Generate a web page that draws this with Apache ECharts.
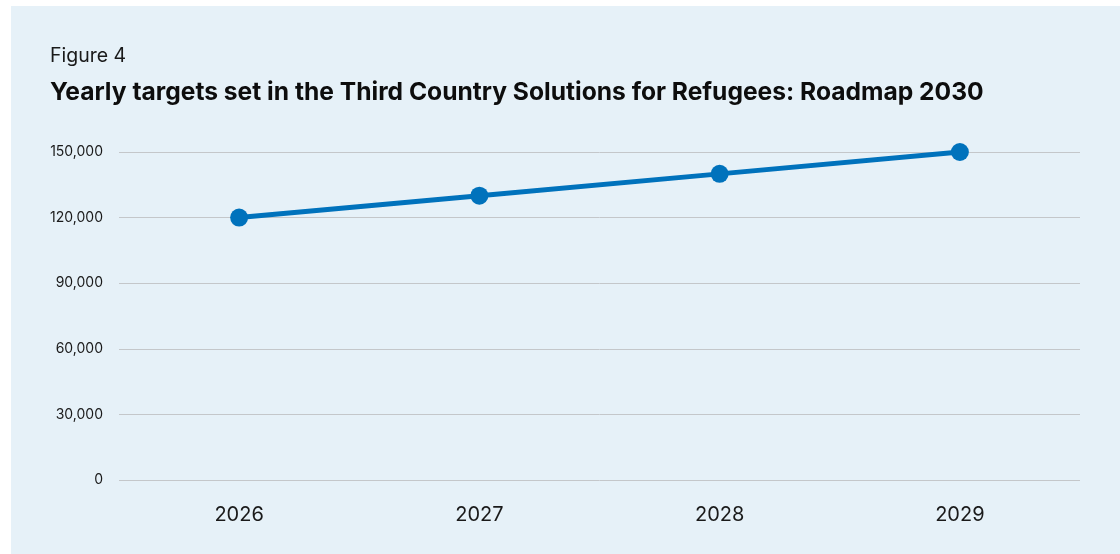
<!DOCTYPE html>
<html>
<head>
<meta charset="utf-8">
<script src="https://cdn.jsdelivr.net/npm/echarts@6/dist/echarts.min.js"></script>
<style>
  html, body { margin: 0; padding: 0; background: #ffffff; }
  #chart { width: 1120px; height: 554px; }
</style>
</head>
<body>
<div id="chart"></div>
<script>
// data
var years = ['2026', '2027', '2028', '2029'];
var targets = [120000, 130000, 140000, 150000];
var yTicks = [0, 30000, 60000, 90000, 120000, 150000];

var chart = echarts.init(document.getElementById('chart'));
var fontFamily = 'Inter, "Noto Sans", sans-serif';

chart.setOption({
    backgroundColor: '#ffffff',
    textStyle: { fontFamily: fontFamily },
    graphic: [
        {
            type: 'rect',
            z: -10,
            shape: { x: 11, y: 6, width: 1109, height: 548 },
            style: { fill: '#e6f1f8' }
        },
        {
            type: 'text',
            left: 50, top: 46,
            style: { text: 'Figure 4', fontSize: 19.5, fill: '#1a1a1a', fontFamily: fontFamily }
        },
        {
            type: 'text',
            left: 50, top: 80,
            style: { text: 'Yearly targets set in the Third Country Solutions for Refugees: Roadmap 2030', fontSize: 24.6, fontWeight: 'bold', fill: '#0d0d0d', fontFamily: fontFamily }
        }
    ],
    grid: { left: 119, right: 40, top: 152, bottom: 74, containLabel: false },
    xAxis: {
        type: 'category',
        data: years,
        boundaryGap: true,
        axisLine: { show: false },
        axisTick: { show: false },
        axisLabel: { fontSize: 20, color: '#1a1a1a', margin: 25 }
    },
    yAxis: {
        type: 'value',
        min: 0,
        max: 150000,
        interval: 30000,
        axisLine: { show: false },
        axisTick: { show: false },
        splitLine: { lineStyle: { color: '#c4c7ca', width: 1 } },
        axisLabel: {
            fontSize: 14,
            color: '#1a1a1a',
            margin: 16,
            formatter: function (v) { return v.toLocaleString('en-US'); }
        }
    },
    series: [
        {
            type: 'line',
            data: targets,
            symbol: 'circle',
            symbolSize: 18,
            lineStyle: { color: '#0072bc', width: 5 },
            itemStyle: { color: '#0072bc' }
        }
    ]
});
</script>
</body>
</html>
